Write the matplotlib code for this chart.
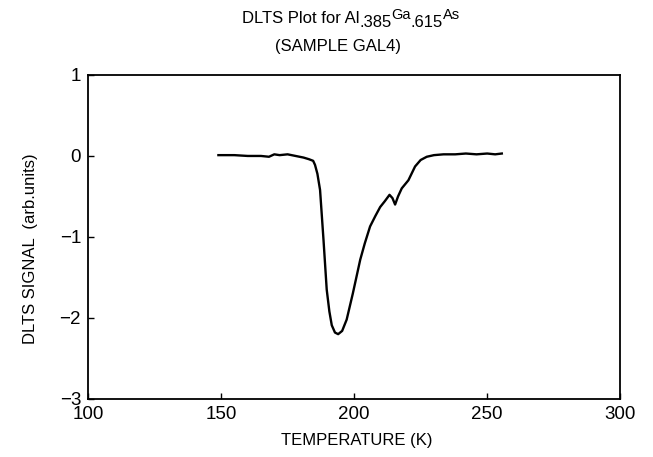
import matplotlib.pyplot as plt

temperature = [149, 155, 160, 165, 168, 170, 172, 175, 178, 181, 183, 184.6, 185.3, 186.2,
               187.2, 188.5, 189.7, 190.7, 191.6, 192.8, 194, 195.5, 197.2, 199.5,
               202.3, 204, 206, 208, 209.8, 211.5, 213.3, 214.4, 215.4, 216.5, 217.9,
               220.4, 222.9, 225, 227.3, 230, 233.6, 238, 242, 246, 250, 253, 255.5]
signal = [0.01, 0.01, 0.0, 0.0, -0.01, 0.02, 0.01, 0.02, 0.0, -0.02, -0.04, -0.06, -0.11, -0.22,
          -0.42, -1.04, -1.65, -1.92, -2.09, -2.18, -2.2, -2.16, -2.02, -1.7,
          -1.28, -1.08, -0.87, -0.74, -0.63, -0.56, -0.48, -0.52, -0.6, -0.5, -0.4,
          -0.3, -0.13, -0.05, -0.01, 0.01, 0.02, 0.02, 0.03, 0.02, 0.03, 0.02, 0.03]

xticks = [100, 150, 200, 250, 300]
yticks = [-3, -2, -1, 0, 1]
yticklabels = ['\u22123', '\u22122', '\u22121', '0', '1']

# morceaux du titre : (texte, decalage vertical en px, taille)
titre = [('DLTS Plot for Al', 0, 12), ('.385', -4, 12), ('Ga', 4, 10.5),
         ('.615', -4, 12), ('As', 4, 10.5)]

plt.rcParams['font.family'] = ['Liberation Sans', 'DejaVu Sans']

fig = plt.figure(figsize=(6.53, 4.57), dpi=100)
ax = fig.add_axes([0.1348, 0.127, 0.815, 0.709])

ax.plot(temperature, signal, color='black', lw=1.7)
ax.set_xlim(100, 300)
ax.set_ylim(-3, 1)
ax.set_xticks(xticks)
ax.set_yticks(yticks)
ax.set_yticklabels(yticklabels)
ax.tick_params(direction='in', length=4, width=1, labelsize=13.5, pad=5)
for s in ax.spines.values():
    s.set_linewidth(1.3)

fig.text(357 / 653, 1 - 440 / 457, 'TEMPERATURE (K)', ha='center', va='center', fontsize=12)
fig.text(31 / 653, 1 - 249 / 457, 'DLTS SIGNAL  (arb.units)', rotation=90,
         ha='center', va='center', fontsize=12)

# titre en morceaux, place a la main
rend = fig.canvas.get_renderer()
objs = []
for txt, dy, sz in titre:
    objs.append((fig.text(0, 0, txt, fontsize=sz, va='baseline'), dy))
larg = [t.get_window_extent(rend).width for t, dy in objs]
x = 351 - sum(larg) / 2
base = 457 - 23
for (t, dy), w in zip(objs, larg):
    t.set_position((x / 653, (base + dy) / 457))
    x += w
fig.text(338 / 653, 1 - 51 / 457, '(SAMPLE GAL4)', ha='center', va='baseline', fontsize=12)

plt.savefig('out.png', dpi=100)
